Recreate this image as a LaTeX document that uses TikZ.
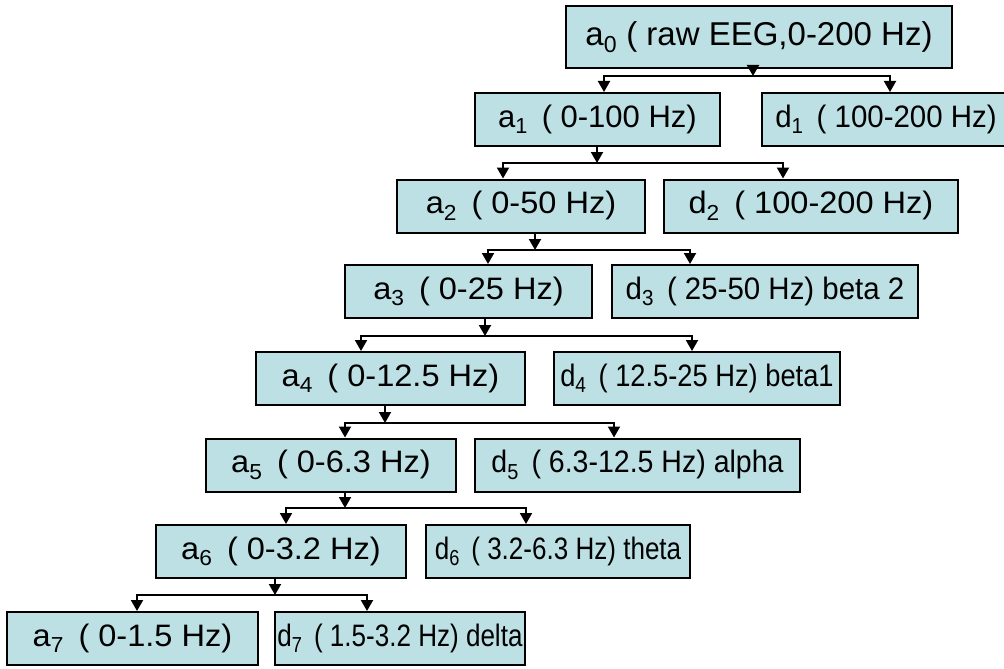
\documentclass[tikz,border=0pt]{standalone}
\usepackage{graphicx}
\usepackage{fontspec}
\setmainfont{Liberation Sans}
\usetikzlibrary{arrows.meta}
\definecolor{bandfill}{RGB}{188,224,228}
\tikzstyle{band}=[draw, line width=2pt, fill=bandfill, minimum height=53pt, inner sep=0pt, font=\fontsize{31}{37}\selectfont]
\tikzstyle{arr}=[line width=2pt, -{Triangle[length=11pt,width=12pt]}]

\begin{document}
\begin{tikzpicture}[x=1pt,y=-1pt]
\useasboundingbox (0,0) rectangle (1004,669);
\fill[white] (0,0) rectangle (1004,669);

\node[band, minimum width=386pt, minimum height=62pt, font=\fontsize{33}{40}\selectfont] (a0) at (759,37) {a\textsubscript{0} ( raw EEG,0-200 Hz)};

\node[band, minimum width=245pt] (a1) at (597.5,119.5) {a\textsubscript{1} \,( 0-100 Hz)};
\node[band, minimum width=248pt] (d1) at (886,119.5) {\scalebox{0.95}[1]{d\textsubscript{1} \,( 100-200 Hz)}};

\node[band, minimum width=248pt] (a2) at (521,206) {\scalebox{1.05}[1]{a\textsubscript{2} \,( 0-50 Hz)}};
\node[band, minimum width=294pt] (d2) at (811,206) {\scalebox{1.05}[1]{d\textsubscript{2} \,( 100-200 Hz)}};

\node[band, minimum width=247pt] (a3) at (468.5,291.5) {\scalebox{1.05}[1]{a\textsubscript{3} \,( 0-25 Hz)}};
\node[band, minimum width=306pt] (d3) at (765,291.5) {\scalebox{0.95}[1]{d\textsubscript{3} \,( 25-50 Hz) beta 2}};

\node[band, minimum width=269pt] (a4) at (390.5,378.5) {\scalebox{1.05}[1]{a\textsubscript{4} \,( 0-12.5 Hz)}};
\node[band, minimum width=286pt] (d4) at (697,378.5) {\scalebox{0.88}[1]{d\textsubscript{4} \,( 12.5-25 Hz) beta1}};

\node[band, minimum width=250pt] (a5) at (331,465) {\scalebox{1.05}[1]{a\textsubscript{5} \,( 0-6.3 Hz)}};
\node[band, minimum width=325pt] (d5) at (637.5,465) {\scalebox{0.92}[1]{d\textsubscript{5} \,( 6.3-12.5 Hz) alpha}};

\node[band, minimum width=250pt] (a6) at (281,551.5) {\scalebox{1.05}[1]{a\textsubscript{6} \,( 0-3.2 Hz)}};
\node[band, minimum width=264pt] (d6) at (558,551.5) {\scalebox{0.84}[1]{d\textsubscript{6} \,( 3.2-6.3 Hz) theta}};

\node[band, minimum width=251pt] (a7) at (132.5,638.5) {\scalebox{1.05}[1]{a\textsubscript{7} \,( 0-1.5 Hz)}};
\node[band, minimum width=250pt] (d7) at (400,638.5) {\scalebox{0.84}[1]{d\textsubscript{7} \,( 1.5-3.2 Hz) delta}};

\coordinate (t0) at (753,76);
\draw[arr] (a0.south -| t0) -- (t0);
\draw[arr] (t0) -| ([xshift=6.5pt]a1.north);
\draw[arr] (t0) -| ([xshift=4pt]d1.north);

\coordinate (t1) at (597,163);
\draw[arr] (a1.south -| t1) -- (t1);
\draw[arr] (t1) -| ([xshift=-18pt]a2.north);
\draw[arr] (t1) -| ([xshift=-28pt]d2.north);

\coordinate (t2) at (535,250);
\draw[arr] (a2.south -| t2) -- (t2);
\draw[arr] (t2) -| ([xshift=19.5pt]a3.north);
\draw[arr] (t2) -| ([xshift=-75pt]d3.north);

\coordinate (t3) at (485,336);
\draw[arr] (a3.south -| t3) -- (t3);
\draw[arr] (t3) -| ([xshift=-29.5pt]a4.north);
\draw[arr] (t3) -| ([xshift=-5pt]d4.north);

\coordinate (t4) at (385,423);
\draw[arr] (a4.south -| t4) -- (t4);
\draw[arr] (t4) -| ([xshift=14pt]a5.north);
\draw[arr] (t4) -| ([xshift=-23.5pt]d5.north);

\coordinate (t5) at (345,508);
\draw[arr] (a5.south -| t5) -- (t5);
\draw[arr] (t5) -| ([xshift=5pt]a6.north);
\draw[arr] (t5) -| ([xshift=-32pt]d6.north);

\coordinate (t6) at (275,595);
\draw[arr] (a6.south -| t6) -- (t6);
\draw[arr] (t6) -| ([xshift=4.5pt]a7.north);
\draw[arr] (t6) -| ([xshift=-33pt]d7.north);
\end{tikzpicture}
\end{document}
